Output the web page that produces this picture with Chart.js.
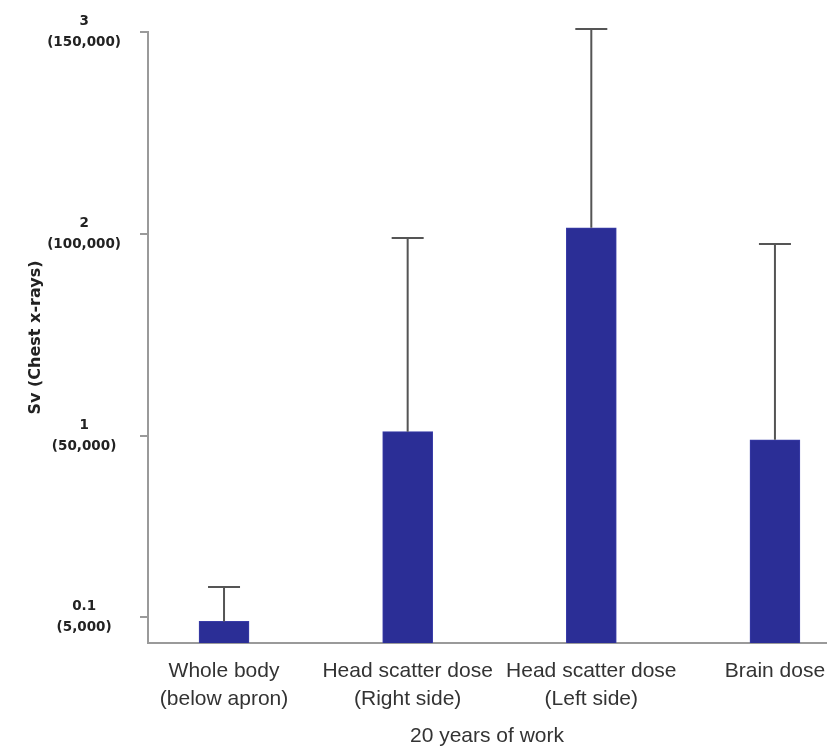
<!DOCTYPE html>
<html>
<head>
<meta charset="utf-8">
<script src="https://cdn.jsdelivr.net/npm/chart.js@4"></script>
<style>
  html, body { margin: 0; padding: 0; background: #fff; }
  canvas { display: block; }
</style>
</head>
<body>
<canvas id="dose-chart" width="833" height="749"></canvas>
<script>
// categories along the x axis (multi-line labels)
const categories = [
  ['Whole body', '(below apron)'],
  ['Head scatter dose', '(Right side)'],
  ['Head scatter dose', '(Left side)'],
  ['Brain dose'],
];

// mean dose (Sv) and top of the error bar
const doseMean = [0.08, 1.02, 2.03, 0.98];
const doseUpper = [0.25, 1.98, 3.015, 1.95];

// y tick labels: Sv value and the equivalent number of chest x-rays
const yTickValues = [0.1, 1, 2, 3];
const yTickChest = ['(5,000)', '(50,000)', '(100,000)', '(150,000)'];

const Y_MIN = -0.027;
const AXIS_GREY = '#9a9a9a';

/**
 * Draws the error bar (whisker + cap) above every bar
 */
const errorBars = {
  id: 'errorBars',
  afterDatasetsDraw(chart) {
    const { ctx, scales: { x, y } } = chart;
    ctx.save();
    ctx.strokeStyle = '#555';
    ctx.lineWidth = 2;
    doseMean.forEach((value, i) => {
      const px = x.getPixelForValue(i);
      const top = y.getPixelForValue(doseUpper[i]);
      const bottom = y.getPixelForValue(value);
      ctx.beginPath();
      ctx.moveTo(px, bottom);
      ctx.lineTo(px, top);
      ctx.moveTo(px - 16, top);
      ctx.lineTo(px + 16, top);
      ctx.stroke();
    });
    ctx.restore();
  },
};

const ctx = document.getElementById('dose-chart').getContext('2d');

new Chart(ctx, {
  type: 'bar',
  data: {
    datasets: [
      {
        data: doseMean.map((value, i) => ({ x: i, y: value })),
        backgroundColor: '#2b2e96',
        borderColor: '#3a3da8',
        borderWidth: 1,
        barThickness: 50,
        base: Y_MIN,
      },
    ],
  },
  plugins: [errorBars],
  options: {
    responsive: false,
    animation: false,
    layout: {
      padding: { top: 32, left: 22, right: 7, bottom: 0 },
    },
    scales: {
      x: {
        type: 'linear',
        offset: false,
        min: -0.414,
        max: 3.278,
        afterBuildTicks: scale => {
          scale.ticks = categories.map((_, i) => ({ value: i }));
        },
        afterFit: scale => {
          scale.height = 106;
          scale.paddingLeft = 0;
          scale.paddingRight = 0;
        },
        grid: {
          display: false,
          drawTicks: false,
        },
        border: {
          display: true,
          color: AXIS_GREY,
          width: 2,
        },
        ticks: {
          autoSkip: false,
          maxRotation: 0,
          padding: 14,
          color: '#333',
          font: { family: 'Liberation Sans', size: 21, lineHeight: 1.333 },
          callback: (value, idx) => categories[idx],
        },
        title: {
          display: true,
          text: '20 years of work',
          color: '#333',
          font: { family: 'Liberation Sans', size: 21, lineHeight: 1.2 },
          padding: { top: 0, bottom: 0 },
        },
      },
      y: {
        min: Y_MIN,
        max: 3,
        afterBuildTicks: scale => {
          scale.ticks = yTickValues.map(value => ({ value }));
        },
        afterFit: scale => {
          scale.width = 126;
          scale.paddingTop = 0;
          scale.paddingBottom = 0;
        },
        grid: {
          drawOnChartArea: false,
          drawTicks: true,
          tickLength: 8,
          color: AXIS_GREY,
          lineWidth: 2,
        },
        border: {
          display: true,
          color: AXIS_GREY,
          width: 2,
        },
        ticks: {
          padding: 19,
          crossAlign: 'center',
          color: '#222',
          font: { family: 'DejaVu Sans', size: 13.5, weight: 'bold', lineHeight: 1.55 },
          callback: (value, idx) => [String(yTickValues[idx]), yTickChest[idx]],
        },
        title: {
          display: true,
          text: 'Sv (Chest x-rays)',
          color: '#222',
          font: { family: 'DejaVu Sans', size: 16, weight: 'bold', lineHeight: 1.2 },
          padding: { top: 4, bottom: 4 },
        },
      },
    },
    plugins: {
      legend: { display: false },
      tooltip: { enabled: false },
    },
  },
});
</script>
</body>
</html>
